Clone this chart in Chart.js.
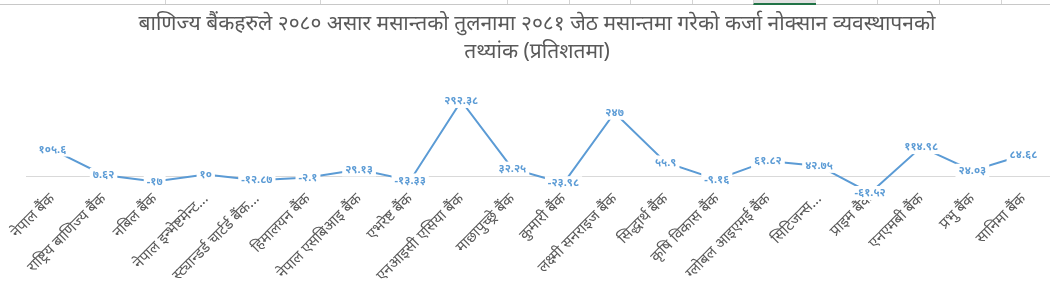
<!DOCTYPE html>
<html>
<head>
    <meta charset="utf-8" />
    <title></title>
    <style>
        html, body { margin: 0; padding: 0; background: #fff; }
        #wrap { position: relative; width: 1050px; height: 283px; }
        #sheet { position: absolute; left: 0; top: 0; width: 1050px; height: 4px; border-bottom: 1px solid #c8c8c8; }
        #sheet span { position: absolute; top: 0; height: 4px; border-left: 1px solid #d4d4d4; }
        #sheet .sel { background: #e0e0e0; border-bottom: 2px solid #217346; height: 3px; width: 62px; }
    </style>
</head>
<body>
    <div id="wrap">
        <canvas id="lossChart" width="1050" height="283"></canvas>
        <div id="sheet">
            <span style="left:165px"></span>
            <span style="left:320px"></span>
            <span style="left:507px"></span>
            <span style="left:569px"></span>
            <span style="left:630px"></span>
            <span style="left:692px"></span>
            <span class="sel" style="left:753px"></span>
            <span style="left:877px"></span>
            <span style="left:939px"></span>
            <span style="left:1001px"></span>
        </div>
    </div>

    <script src="https://cdn.jsdelivr.net/npm/chart.js@4/dist/chart.umd.min.js"></script>
    <script>
        const titleLines = [
            'बाणिज्य बैंकहरुले २०८० असार मसान्तको तुलनामा २०८१ जेठ मसान्तमा गरेको कर्जा नोक्सान व्यवस्थापनको',
            'तथ्यांक (प्रतिशतमा)'
        ];

        const banks = [
            'नेपाल बैंक', 'राष्ट्रिय बाणिज्य बैंक', 'नबिल बैंक', 'नेपाल इन्भेष्टमेन्ट...',
            'स्ट्यान्डर्ड चार्टर्ड बैंक...', 'हिमालयन बैंक', 'नेपाल एसबिआइ बैंक', 'एभरेष्ट बैंक',
            'एनआइसी एसिया बैंक', 'माछापुच्छ्रे बैंक', 'कुमारी बैंक', 'लक्ष्मी सनराइज बैंक',
            'सिद्धार्थ बैंक', 'कृषि विकास बैंक', 'ग्लोबल आइएमई बैंक', 'सिटिजन्स...',
            'प्राइम बैंक', 'एनएमबी बैंक', 'प्रभु बैंक', 'सानिमा बैंक'
        ];

        const lossChange = [
            105.6, 7.62, -17, 10, -12.87, -2.1, 29.13, -13.33, 292.38, 32.25,
            -23.98, 247, 55.9, -9.16, 61.82, 42.75, -61.52, 114.98, 24.03, 84.68
        ];

        const devDigits = ['०', '१', '२', '३', '४', '५', '६', '७', '८', '९'];

        function toNepaliNum(v) {
            return String(v).replace(/[0-9]/g, (d) => devDigits[+d]);
        }

        const blue = '#5b9bd5';
        const grey = '#595959';
        const fontFam = '"Noto Sans", "DejaVu Sans", sans-serif';

        // value labels centred on the points, white box cuts the line like excel does
        const valueLabels = {
            id: 'valueLabels',
            afterDatasetsDraw(chart) {
                const ctx = chart.ctx;
                const meta = chart.getDatasetMeta(0);
                ctx.save();
                ctx.font = 'bold 11px ' + fontFam;
                ctx.textAlign = 'center';
                ctx.textBaseline = 'middle';
                meta.data.forEach((pt, i) => {
                    const txt = toNepaliNum(lossChange[i]);
                    const w = ctx.measureText(txt).width;
                    ctx.fillStyle = '#fff';
                    ctx.fillRect(pt.x - w / 2 - 3, pt.y - 7, w + 6, 14);
                    ctx.fillStyle = blue;
                    ctx.fillText(txt, pt.x, pt.y);
                });
                ctx.restore();
            }
        };

        const ctx = document.getElementById('lossChart');
        const myChart = new Chart(ctx, {
            type: 'line',
            data: {
                labels: banks,
                datasets: [{
                    data: lossChange,
                    borderColor: blue,
                    borderWidth: 2,
                    pointRadius: 0,
                    tension: 0,
                    fill: false
                }]
            },
            options: {
                responsive: false,
                animation: false,
                layout: { padding: { left: 25, right: 1, top: 0, bottom: 80 } },
                plugins: {
                    legend: { display: false },
                    tooltip: { enabled: false },
                    title: {
                        display: true,
                        text: titleLines,
                        color: grey,
                        font: { size: 21, family: fontFam, weight: 'normal', lineHeight: 1.333 },
                        padding: { top: 10, bottom: 33 }
                    }
                },
                scales: {
                    x: {
                        position: { y: 0 },
                        offset: true,
                        grid: { display: false, drawTicks: false },
                        border: { display: true, color: '#d9d9d9', width: 1 },
                        ticks: {
                            color: grey,
                            font: { size: 15, family: fontFam },
                            minRotation: 45,
                            maxRotation: 45,
                            autoSkip: false,
                            padding: 13
                        }
                    },
                    y: {
                        display: false,
                        min: -100,
                        max: 300
                    }
                }
            },
            plugins: [valueLabels]
        });
    </script>
</body>
</html>
